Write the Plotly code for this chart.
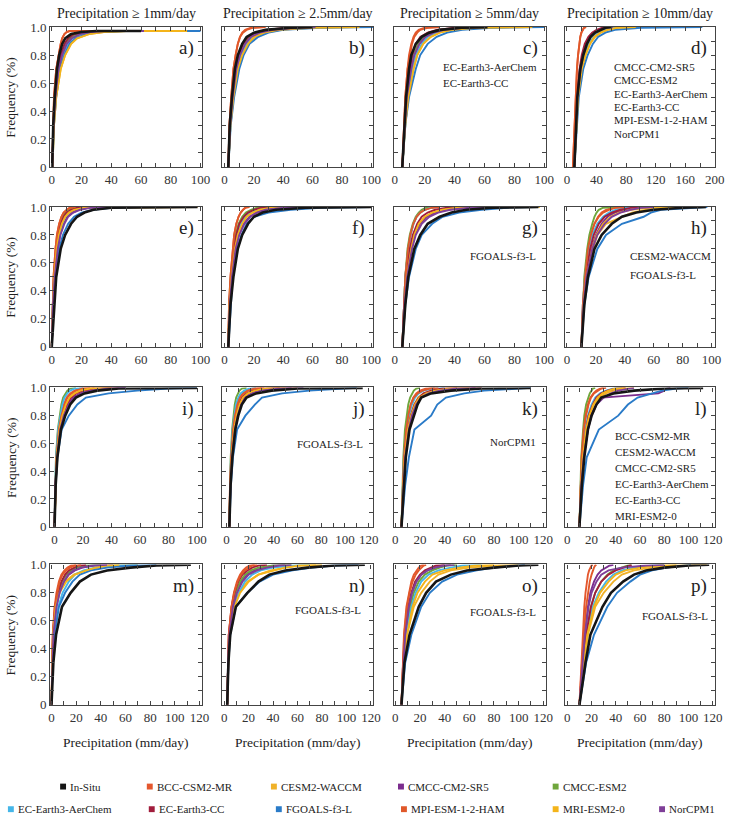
import plotly.graph_objects as go

W, H = 740, 827

MODELS = ["In-Situ", "BCC-CSM2-MR", "CESM2-WACCM", "CMCC-CM2-SR5", "CMCC-ESM2",
          "EC-Earth3-AerChem", "EC-Earth3-CC", "FGOALS-f3-L", "MPI-ESM-1-2-HAM",
          "MRI-ESM2-0", "NorCPM1"]
COLORS = ["#151515", "#e4572e", "#f0b22a", "#7b2d8e", "#6fa63c",
          "#45b6e8", "#a11d3c", "#2a7bc8", "#e0582a", "#f4b41a", "#7f3f98"]
COLUMN_TITLES = ["Precipitation \u2265 1mm/day", "Precipitation \u2265 2.5mm/day",
                 "Precipitation \u2265 5mm/day", "Precipitation \u2265 10mm/day"]
X_TITLE = "Precipitation (mm/day)"
Y_TITLE = "Frequency (%)"
LETTERS = list("abcdefghijklmnop")

# cumulative frequency levels shared by the curves of a panel
Y_LEVELS = [0, 0.3, 0.5, 0.7, 0.8, 0.88, 0.93, 0.96, 0.98, 0.995, 1.0]
Y_LEVELS_A = [0, 0.3, 0.5, 0.7, 0.8, 0.88, 0.92, 0.95, 0.965, 0.972, 0.972]

X_TICKS_100 = [0, 20, 40, 60, 80, 100]
X_TICKS_120 = [0, 20, 40, 60, 80, 100, 120]
X_TICKS_200 = [0, 40, 80, 120, 160, 200]
Y_TICKS = [0, 0.2, 0.4, 0.6, 0.8, 1.0]
Y_TICK_TEXT = ["0", "0.2", "0.4", "0.6", "0.8", "1.0"]

# precipitation (mm/day) reached by each curve at the panel's frequency levels
PANEL_A = {
    "In-Situ": [0.3, 1, 2, 3.5, 5, 7, 9, 13, 20, 30, 60],
    "BCC-CSM2-MR": [0.3, 0.8, 1.5, 3, 4.5, 6, 7, 8.5, 10, 12, 27],
    "CESM2-WACCM": [0.5, 1.5, 3, 6, 9, 13, 17, 25, 35, 50, 92],
    "CMCC-CM2-SR5": [0.4, 1.2, 2.5, 4.5, 7, 10, 13, 18, 25, 35, 60],
    "CMCC-ESM2": [0.4, 1.2, 2.5, 4.5, 6.5, 9, 12, 17, 24, 33, 55],
    "EC-Earth3-AerChem": [0.4, 1.3, 2.7, 5, 7.5, 11, 14, 20, 28, 40, 70],
    "EC-Earth3-CC": [0.4, 1.1, 2.2, 4, 6, 8.5, 11, 15, 22, 30, 55],
    "FGOALS-f3-L": [0.5, 1.5, 3, 5.5, 8.5, 12, 16, 23, 33, 48, 100],
    "MPI-ESM-1-2-HAM": [0.3, 0.8, 1.5, 3, 4.5, 6, 7, 8.5, 10, 12, 28],
    "MRI-ESM2-0": [0.5, 1.5, 3, 6, 9, 13, 17, 25, 35, 50, 91],
    "NorCPM1": [0.4, 1.2, 2.5, 4.5, 7, 10, 13.5, 19, 26, 36, 62],
}
PANEL_B = {
    "In-Situ": [2.5, 3.5, 5, 7, 9, 12, 15, 20, 28, 45, 60],
    "BCC-CSM2-MR": [2.5, 3.3, 4.5, 6, 7.5, 9, 10.5, 12, 14, 18, 27],
    "CESM2-WACCM": [2.5, 4, 6, 9, 12, 16, 21, 28, 38, 60, 92],
    "CMCC-CM2-SR5": [2.5, 3.8, 5.5, 8, 10.5, 14, 18, 24, 32, 50, 60],
    "CMCC-ESM2": [2.5, 3.8, 5.5, 8, 10, 13, 17, 22, 30, 45, 55],
    "EC-Earth3-AerChem": [2.5, 4, 6, 9, 11.5, 15, 19, 26, 35, 55, 70],
    "EC-Earth3-CC": [2.5, 3.6, 5, 7.5, 9.5, 12.5, 16, 21, 28, 42, 55],
    "FGOALS-f3-L": [2.5, 4.2, 6.5, 10, 13, 17, 23, 30, 40, 65, 102],
    "MPI-ESM-1-2-HAM": [2.5, 3.3, 4.5, 6, 7.5, 9, 10.5, 12.5, 15, 19, 28],
    "MRI-ESM2-0": [2.5, 4, 6, 9, 12, 16, 20, 27, 37, 58, 92],
    "NorCPM1": [2.5, 3.8, 5.5, 8, 10.5, 14, 18, 24, 33, 50, 62],
}
PANEL_C = {
    "In-Situ": [5, 6.5, 7.5, 9.5, 11, 14, 18, 23, 30, 45, 62],
    "BCC-CSM2-MR": [5, 6, 7, 8.5, 9.5, 11, 12.5, 14, 16, 20, 30],
    "CESM2-WACCM": [5, 7, 9, 12.5, 15, 19, 24, 30, 38, 55, 93],
    "CMCC-CM2-SR5": [5, 6.5, 8, 11, 13, 16, 20, 25, 32, 45, 60],
    "CMCC-ESM2": [5, 6.5, 8, 10.5, 12.5, 15.5, 19, 24, 30, 42, 55],
    "EC-Earth3-AerChem": [5, 7, 8.5, 12, 14, 18, 22, 28, 35, 50, 70],
    "EC-Earth3-CC": [5, 6.5, 7.5, 10, 11.5, 14, 17, 22, 28, 40, 55],
    "FGOALS-f3-L": [5, 7, 9.5, 14, 17, 22, 28, 35, 45, 65, 100],
    "MPI-ESM-1-2-HAM": [5, 6, 7, 8.5, 10, 11.5, 13, 15, 17, 22, 30],
    "MRI-ESM2-0": [5, 7, 9, 12.5, 15, 19, 24, 30, 38, 55, 92],
    "NorCPM1": [5, 6.5, 8, 11, 13, 16.5, 20.5, 26, 33, 46, 60],
}
PANEL_D = {
    "In-Situ": [10, 12, 14, 18, 22, 27, 32, 38, 45, 52, 60],
    "BCC-CSM2-MR": [8, 10, 11.5, 13.5, 15, 16.5, 18, 19.5, 21, 23, 25],
    "CESM2-WACCM": [10, 12.5, 15, 20, 25, 31, 38, 46, 55, 70, 95],
    "CMCC-CM2-SR5": [10, 12, 14, 18, 21, 26, 31, 37, 44, 52, 60],
    "CMCC-ESM2": [10, 12, 14, 17.5, 21, 25, 30, 35, 42, 50, 55],
    "EC-Earth3-AerChem": [10, 12.5, 15, 19.5, 24, 30, 36, 43, 52, 62, 70],
    "EC-Earth3-CC": [10, 12, 13.5, 17, 20, 24, 29, 34, 40, 48, 55],
    "FGOALS-f3-L": [10, 13, 16, 22, 28, 35, 42, 52, 65, 100, 183],
    "MPI-ESM-1-2-HAM": [8, 10, 11.5, 13.5, 15, 16.5, 18, 19.5, 21, 23, 26],
    "MRI-ESM2-0": [10, 12.5, 15, 20, 25, 31, 37, 45, 54, 68, 93],
    "NorCPM1": [10, 12, 14, 18.5, 22, 27, 32, 38, 45, 53, 62],
}
PANEL_E = {
    "In-Situ": [0, 1.5, 3, 6, 9, 13, 17, 22, 28, 40, 98],
    "BCC-CSM2-MR": [0, 0.5, 1.2, 2.5, 3.5, 5, 6.5, 8, 10, 12, 15],
    "CESM2-WACCM": [0, 0.7, 1.8, 3.5, 5, 7, 9, 12, 16, 25, 98],
    "CMCC-CM2-SR5": [0, 0.8, 2, 4, 5.5, 8, 10.5, 14, 18, 25, 40],
    "CMCC-ESM2": [0, 0.6, 1.5, 3, 4, 5.5, 7, 9, 11, 15, 25],
    "EC-Earth3-AerChem": [0, 0.7, 1.8, 3.5, 5, 7, 9, 11.5, 14, 20, 30],
    "EC-Earth3-CC": [0, 0.6, 1.5, 3, 4.2, 6, 8, 10, 13, 17, 25],
    "FGOALS-f3-L": [0, 1, 2.5, 5, 7.5, 11, 15, 20, 28, 40, 60],
    "MPI-ESM-1-2-HAM": [0, 0.5, 1.2, 2.5, 3.5, 5, 6.5, 8, 10, 12.5, 16],
    "MRI-ESM2-0": [0, 0.7, 1.7, 3.3, 4.8, 6.8, 9, 11.5, 15, 22, 35],
    "NorCPM1": [0, 0.8, 2, 4, 5.8, 8.5, 11, 14.5, 19, 27, 45],
}
PANEL_F = {
    "In-Situ": [2.5, 4, 6, 9, 12, 16, 20, 26, 35, 55, 100],
    "BCC-CSM2-MR": [2.5, 3, 4, 5.5, 6.5, 8, 9.5, 11, 12.5, 14, 16],
    "CESM2-WACCM": [2.5, 3.3, 4.8, 7, 9, 12, 15, 19, 25, 35, 90],
    "CMCC-CM2-SR5": [2.5, 3.5, 5, 7.5, 9.5, 13, 17, 22, 28, 38, 50],
    "CMCC-ESM2": [2.5, 3.2, 4.3, 6, 7.5, 9.5, 12, 14.5, 18, 22, 28],
    "EC-Earth3-AerChem": [2.5, 3.3, 4.6, 6.5, 8.5, 11, 14, 17, 21, 27, 35],
    "EC-Earth3-CC": [2.5, 3.2, 4.4, 6.2, 8, 10, 13, 16, 20, 25, 32],
    "FGOALS-f3-L": [2.5, 4, 5.5, 8.5, 11.5, 15, 20, 30, 45, 65, 100],
    "MPI-ESM-1-2-HAM": [2.5, 3, 4, 5.5, 6.5, 8, 9.5, 11, 12.5, 14.5, 17],
    "MRI-ESM2-0": [2.5, 3.3, 4.8, 7, 9, 12, 15, 19, 24, 32, 45],
    "NorCPM1": [2.5, 3.5, 5, 7.5, 10, 13.5, 17.5, 22, 28, 40, 55],
}
PANEL_G = {
    "In-Situ": [5, 7, 9, 13, 17, 22, 30, 38, 48, 65, 96],
    "BCC-CSM2-MR": [5, 6, 7, 9, 10.5, 12.5, 14.5, 17, 20, 24, 28],
    "CESM2-WACCM": [5, 6.5, 8, 11, 13.5, 17, 21, 26, 33, 45, 97],
    "CMCC-CM2-SR5": [5, 6.5, 8, 11, 13, 16.5, 21, 27, 35, 48, 60],
    "CMCC-ESM2": [5, 6, 7, 8.5, 10, 12, 14, 16, 18, 21, 25],
    "EC-Earth3-AerChem": [5, 6, 7, 9, 10.5, 12.5, 14.5, 17, 20, 24, 30],
    "EC-Earth3-CC": [5, 6.2, 7.5, 10, 12, 15, 18, 22, 27, 35, 45],
    "FGOALS-f3-L": [5, 7, 9.5, 14, 18, 25, 32, 43, 58, 75, 96],
    "MPI-ESM-1-2-HAM": [5, 6, 7, 8.8, 10.3, 12.3, 14.5, 17, 20, 25, 30],
    "MRI-ESM2-0": [5, 6.5, 8, 11, 13, 16, 20, 25, 32, 42, 60],
    "NorCPM1": [5, 6.5, 8.2, 11.5, 14, 18, 23, 29, 37, 50, 62],
}
PANEL_H = {
    "In-Situ": [10, 12, 14.5, 19, 24, 31, 38, 48, 60, 80, 96],
    "BCC-CSM2-MR": [10, 11, 12.5, 14.5, 16.5, 19, 21.5, 24, 27, 32, 38],
    "CESM2-WACCM": [10, 11.5, 13.5, 18, 21, 27, 38, 45, 55, 60, 95],
    "CMCC-CM2-SR5": [10, 11.5, 13.5, 17, 20, 24, 28, 33, 40, 50, 58],
    "CMCC-ESM2": [10, 11, 12, 14, 15.5, 17.5, 19, 20.5, 22, 25, 33],
    "EC-Earth3-AerChem": [10, 11, 12.5, 15, 17.5, 21, 25, 29, 34, 40, 48],
    "EC-Earth3-CC": [10, 11.2, 13, 16, 18.5, 22, 26, 31, 37, 45, 52],
    "FGOALS-f3-L": [10, 12, 15, 21, 27, 38, 53, 58, 65, 85, 97],
    "MPI-ESM-1-2-HAM": [10, 11, 12.5, 14.5, 16.5, 19, 22, 25, 29, 34, 40],
    "MRI-ESM2-0": [10, 11.5, 13.5, 17.5, 20.5, 25, 30, 36, 44, 55, 60],
    "NorCPM1": [10, 11.5, 13.5, 17.5, 21, 26, 31, 37, 44, 52, 60],
}
PANEL_I = {
    "In-Situ": [0, 0.8, 2, 4.5, 7.5, 11, 15, 21, 30, 45, 100],
    "BCC-CSM2-MR": [0, 0.5, 1.2, 3, 4.5, 6.5, 8.5, 11, 14, 18, 25],
    "CESM2-WACCM": [0, 0.6, 1.5, 3.5, 5.5, 8, 11, 14, 19, 26, 45],
    "CMCC-CM2-SR5": [0, 0.7, 1.8, 4, 6.5, 9.5, 13, 18, 25, 35, 50],
    "CMCC-ESM2": [0, 0.4, 1, 2.3, 3.5, 4.8, 6, 7.5, 9, 11, 15],
    "EC-Earth3-AerChem": [0, 0.4, 1, 2.5, 4, 5.5, 7, 9, 11, 14, 20],
    "EC-Earth3-CC": [0, 0.6, 1.6, 3.6, 5.8, 8.5, 11.5, 15, 20, 28, 40],
    "FGOALS-f3-L": [0, 0.8, 2, 5, 10, 16, 22, 38, 58, 80, 100],
    "MPI-ESM-1-2-HAM": [0, 0.5, 1.3, 3, 4.8, 7, 9, 12, 15, 20, 28],
    "MRI-ESM2-0": [0, 0.6, 1.5, 3.5, 5.5, 8, 10.5, 14, 18, 25, 40],
    "NorCPM1": [0, 0.7, 1.8, 4, 6.5, 10, 14, 19, 26, 38, 50],
}
PANEL_J = {
    "In-Situ": [2.5, 3.5, 5, 7.5, 10, 13, 17, 25, 38, 60, 115],
    "BCC-CSM2-MR": [2.5, 3, 4, 5.5, 7, 9, 11, 14, 17, 22, 30],
    "CESM2-WACCM": [2.5, 3.3, 4.5, 6.5, 8.5, 11, 14, 18, 24, 35, 60],
    "CMCC-CM2-SR5": [2.5, 3.4, 4.8, 7, 9, 12, 15.5, 21, 28, 40, 55],
    "CMCC-ESM2": [2.5, 2.9, 3.6, 4.8, 5.8, 7, 8.2, 9.5, 11, 13, 17],
    "EC-Earth3-AerChem": [2.5, 3, 3.8, 5.2, 6.5, 8, 10, 12, 15, 19, 25],
    "EC-Earth3-CC": [2.5, 3.2, 4.3, 6.2, 8, 10.5, 13, 17, 22, 30, 45],
    "FGOALS-f3-L": [2.5, 3.8, 5.5, 9, 16, 24, 30, 47, 70, 95, 110],
    "MPI-ESM-1-2-HAM": [2.5, 3, 4, 5.6, 7.2, 9.3, 11.5, 14.5, 18, 24, 32],
    "MRI-ESM2-0": [2.5, 3.3, 4.5, 6.5, 8.5, 11, 14, 18, 24, 34, 50],
    "NorCPM1": [2.5, 3.4, 4.8, 7.2, 9.5, 12.5, 16, 22, 30, 45, 65],
}
PANEL_K = {
    "In-Situ": [5, 7, 8.5, 11.5, 15, 18, 21, 29, 45, 70, 110],
    "BCC-CSM2-MR": [5, 6, 7, 8.8, 10.5, 12.5, 14.5, 17, 20, 25, 32],
    "CESM2-WACCM": [5, 6.3, 7.5, 10, 12.5, 15.5, 18.5, 23, 30, 42, 70],
    "CMCC-CM2-SR5": [5, 6.5, 8, 11, 14, 17, 20, 26, 35, 50, 65],
    "CMCC-ESM2": [5, 5.8, 6.5, 7.8, 9, 10.5, 12, 13.5, 15, 17, 20],
    "EC-Earth3-AerChem": [5, 6, 7, 9, 11, 13.5, 16, 19, 23, 30, 40],
    "EC-Earth3-CC": [5, 6.3, 7.5, 10, 12.5, 15.5, 19, 23, 29, 38, 50],
    "FGOALS-f3-L": [5, 8, 11, 15.5, 29, 34, 41, 56, 72, 95, 110],
    "MPI-ESM-1-2-HAM": [5, 6, 7, 8.8, 10.5, 12.5, 15, 18, 22, 28, 35],
    "MRI-ESM2-0": [5, 6.3, 7.6, 10.2, 12.8, 16, 19.5, 25, 32, 45, 60],
    "NorCPM1": [5, 6.5, 8, 11, 13.5, 17, 21, 27, 36, 50, 70],
}
PANEL_L = {
    "In-Situ": [10, 12, 14, 17, 20, 24, 28, 38, 55, 80, 112],
    "BCC-CSM2-MR": [10, 11, 12, 14, 15.5, 17.5, 19.5, 22, 25, 28, 32],
    "CESM2-WACCM": [10, 11.5, 13, 16, 18.5, 22, 26, 32, 38, 45, 55],
    "CMCC-CM2-SR5": [10, 11.5, 13.5, 17, 19.5, 24, 29, 75, 80, 82, 85],
    "CMCC-ESM2": [10, 10.8, 11.5, 13, 14, 15.5, 17, 18.5, 20, 21, 23],
    "EC-Earth3-AerChem": [10, 11.2, 12.5, 15, 17, 20, 23, 27, 32, 38, 45],
    "EC-Earth3-CC": [10, 11.2, 12.8, 15.5, 17.5, 21, 24, 28, 33, 40, 48],
    "FGOALS-f3-L": [10, 13, 16, 26, 42, 50, 58, 70, 78, 90, 100],
    "MPI-ESM-1-2-HAM": [10, 10.8, 11.8, 13.5, 15, 17, 19, 21.5, 24, 27, 30],
    "MRI-ESM2-0": [10, 11.3, 12.8, 15.5, 18, 21.5, 25, 29, 34, 40, 48],
    "NorCPM1": [10, 11.5, 13.5, 17, 20, 24, 30, 36, 42, 50, 55],
}
PANEL_M = {
    "In-Situ": [0, 1.5, 3.7, 8.5, 15.5, 23, 32, 45, 64, 85, 113],
    "BCC-CSM2-MR": [0, 0.4, 1, 2.5, 4, 6, 8, 10.5, 13, 16, 20],
    "CESM2-WACCM": [0, 0.5, 1.2, 3.5, 6, 11, 18, 28, 38, 50, 70],
    "CMCC-CM2-SR5": [0, 0.6, 1.5, 4, 6.5, 10, 14, 19, 25, 35, 50],
    "CMCC-ESM2": [0, 0.5, 1.3, 3.5, 5.5, 8.5, 12, 16, 21, 28, 40],
    "EC-Earth3-AerChem": [0, 0.8, 2, 5.5, 9, 14, 19, 26, 35, 50, 70],
    "EC-Earth3-CC": [0, 0.5, 1.2, 3, 5, 8, 11, 14, 18, 22, 28],
    "FGOALS-f3-L": [0, 1, 2.5, 6, 11, 17, 23, 32, 45, 65, 85],
    "MPI-ESM-1-2-HAM": [0, 0.4, 1, 2.7, 4.5, 6.5, 9, 12, 15, 19, 24],
    "MRI-ESM2-0": [0, 0.5, 1.2, 3.5, 6.5, 12, 19, 28, 36, 45, 55],
    "NorCPM1": [0, 0.6, 1.5, 4, 6.5, 10, 13.5, 18, 24, 33, 45],
}
PANEL_N = {
    "In-Situ": [2.5, 3.5, 5, 9.6, 19, 28, 37, 50, 68, 90, 115],
    "BCC-CSM2-MR": [2.5, 3, 3.8, 6, 8, 10.5, 13, 15.5, 18, 21, 25],
    "CESM2-WACCM": [2.5, 3.3, 4.5, 8, 12, 19, 28, 38, 50, 60, 75],
    "CMCC-CM2-SR5": [2.5, 3.2, 4.2, 7, 10, 14, 19, 25, 32, 40, 50],
    "CMCC-ESM2": [2.5, 3.1, 4, 6.8, 9.5, 13, 17, 22, 28, 40, 55],
    "EC-Earth3-AerChem": [2.5, 3.3, 4.5, 8, 12, 17, 23, 30, 40, 55, 70],
    "EC-Earth3-CC": [2.5, 3, 3.8, 6.2, 8.5, 11.5, 15, 19, 23, 28, 35],
    "FGOALS-f3-L": [2.5, 3.5, 5, 9.5, 19, 29, 40, 56, 72, 90, 110],
    "MPI-ESM-1-2-HAM": [2.5, 3, 3.8, 6, 8.2, 11, 14, 17, 20, 23, 27],
    "MRI-ESM2-0": [2.5, 3.4, 4.7, 8.5, 13, 20, 28, 40, 50, 62, 80],
    "NorCPM1": [2.5, 3.2, 4.3, 7.2, 10.5, 15, 20, 27, 35, 45, 55],
}
PANEL_O = {
    "In-Situ": [5, 7.4, 11.5, 19, 25, 33, 45, 58, 80, 100, 116],
    "BCC-CSM2-MR": [5, 6, 7, 9, 11, 13, 15, 17, 19, 21, 23],
    "CESM2-WACCM": [5, 7, 9.5, 15, 21, 28, 35, 45, 60, 80, 100],
    "CMCC-CM2-SR5": [5, 6.5, 8, 11, 13.5, 17, 21, 26, 32, 38, 45],
    "CMCC-ESM2": [5, 6.5, 8.5, 12, 15, 19, 24, 30, 36, 42, 50],
    "EC-Earth3-AerChem": [5, 6.8, 9, 13, 16.5, 21, 27, 35, 45, 55, 70],
    "EC-Earth3-CC": [5, 6.3, 7.8, 10.5, 13, 16, 20, 24, 29, 33, 40],
    "FGOALS-f3-L": [5, 8, 13, 21, 28, 38, 50, 66, 80, 95, 105],
    "MPI-ESM-1-2-HAM": [5, 6, 7.2, 9.5, 11.5, 14, 16.5, 19, 21, 23, 25],
    "MRI-ESM2-0": [5, 7, 9.5, 14, 18, 24, 30, 40, 52, 65, 80],
    "NorCPM1": [5, 6.5, 8, 11, 13.5, 17, 21, 26, 32, 40, 48],
}
PANEL_P = {
    "In-Situ": [10, 15, 19, 29, 36, 46, 55, 65, 80, 100, 117],
    "BCC-CSM2-MR": [10, 11.5, 12.5, 14, 15, 16, 17, 18, 19, 20, 21],
    "CESM2-WACCM": [10, 14, 17, 23, 30, 38, 45, 55, 70, 90, 115],
    "CMCC-CM2-SR5": [10, 12.5, 14.5, 17, 19, 22, 25, 28, 32, 35, 38],
    "CMCC-ESM2": [10, 13, 15.5, 19.5, 23, 28, 33, 38, 44, 50, 53],
    "EC-Earth3-AerChem": [10, 13.5, 16, 21, 26, 32, 38, 45, 55, 70, 80],
    "EC-Earth3-CC": [10, 13, 15.5, 19.5, 23, 28, 34, 40, 46, 50, 53],
    "FGOALS-f3-L": [10, 15.5, 22, 33, 41, 52, 60, 70, 82, 95, 102],
    "MPI-ESM-1-2-HAM": [10, 12, 13.5, 15.5, 17, 18.5, 20, 21, 22, 23, 24],
    "MRI-ESM2-0": [10, 13.5, 16.5, 22, 27, 34, 40, 48, 60, 75, 90],
    "NorCPM1": [10, 12.5, 14.5, 17.5, 20, 24, 28, 34, 45, 65, 80],
}

# models named inside some panels
NOTES_C = ["EC-Earth3-AerChem", "EC-Earth3-CC"]
NOTES_D = ["CMCC-CM2-SR5", "CMCC-ESM2", "EC-Earth3-AerChem", "EC-Earth3-CC",
           "MPI-ESM-1-2-HAM", "NorCPM1"]
NOTES_G = ["FGOALS-f3-L"]
NOTES_H = ["CESM2-WACCM", "FGOALS-f3-L"]
NOTES_J = ["FGOALS-f3-L"]
NOTES_K = ["NorCPM1"]
NOTES_L = ["BCC-CSM2-MR", "CESM2-WACCM", "CMCC-CM2-SR5", "EC-Earth3-AerChem",
           "EC-Earth3-CC", "MRI-ESM2-0"]
NOTES_N = ["FGOALS-f3-L"]
NOTES_O = ["FGOALS-f3-L"]
NOTES_P = ["FGOALS-f3-L"]

PANELS = [
    # data, y-levels, x tick values, x range, minor step, notes, (note x px, first y px, spacing px)
    (PANEL_A, Y_LEVELS_A, X_TICKS_100, [-1, 101], 10, [], None),
    (PANEL_B, Y_LEVELS, X_TICKS_100, [-2, 101.5], 10, [], None),
    (PANEL_C, Y_LEVELS, X_TICKS_100, [-0.5, 101], 10, NOTES_C, (446, 61, 16)),
    (PANEL_D, Y_LEVELS, X_TICKS_200, [-2, 200.5], 20, NOTES_D, (619, 61, 13.6)),
    (PANEL_E, Y_LEVELS, X_TICKS_100, [-1, 101], 10, [], None),
    (PANEL_F, Y_LEVELS, X_TICKS_100, [-2, 101.5], 10, [], None),
    (PANEL_G, Y_LEVELS, X_TICKS_100, [-0.5, 101], 10, NOTES_G, (473, 253, 0)),
    (PANEL_H, Y_LEVELS, X_TICKS_100, [-1, 102.5], 10, NOTES_H, (635, 253, 20)),
    (PANEL_I, Y_LEVELS, X_TICKS_100, [-3, 103.5], 10, [], None),
    (PANEL_J, Y_LEVELS, X_TICKS_120, [-4, 124], 10, NOTES_J, (297, 445, 0)),
    (PANEL_K, Y_LEVELS, X_TICKS_120, [-1, 122], 10, NOTES_K, (493, 442, 0)),
    (PANEL_L, Y_LEVELS, X_TICKS_120, [-1.5, 122], 10, NOTES_L, (620, 436, 16.3)),
    (PANEL_M, Y_LEVELS, X_TICKS_120, [-1, 122], 10, [], None),
    (PANEL_N, Y_LEVELS, X_TICKS_120, [-2, 122], 10, NOTES_N, (295, 613, 0)),
    (PANEL_O, Y_LEVELS, X_TICKS_120, [-1, 122], 10, NOTES_O, (473, 615, 0)),
    (PANEL_P, Y_LEVELS, X_TICKS_120, [-1.5, 122], 10, NOTES_P, (648, 619, 0)),
]

COL_LEFT = [49, 223, 398, 572]
COL_RIGHT = [203, 377, 552, 724]
ROW_TOP = [20, 203, 387, 567]
ROW_BOT = [163, 346, 529, 710]

LEGEND_ROWS = [
    (793, [(62, 0), (150, 1), (276, 2), (405, 3), (562, 4)]),
    (816, [(9, 5), (152, 6), (281, 7), (408, 8), (562, 9), (670, 10)]),
]

FONT = "Liberation Serif, Times New Roman, Tinos, serif"
INK = "#333333"


def px(x):
    return x / W


def py(y):
    return 1 - y / H


fig = go.Figure()
layout = dict(
    width=W, height=H, margin=dict(l=0, r=0, t=0, b=0),
    paper_bgcolor="white", plot_bgcolor="white",
    font=dict(family=FONT, size=12, color=INK),
    showlegend=False,
)
annotations = []
shapes = []

for i, (data, ylev, xticks, xrange, minor, notes, notepos) in enumerate(PANELS):
    r, c = divmod(i, 4)
    n = i + 1
    xa = "x" if n == 1 else f"x{n}"
    ya = "y" if n == 1 else f"y{n}"
    xkey = "xaxis" if n == 1 else f"xaxis{n}"
    ykey = "yaxis" if n == 1 else f"yaxis{n}"
    order = MODELS[1:] + MODELS[:1]
    for name in order:
        k = MODELS.index(name)
        fig.add_trace(go.Scatter(
            x=data[name], y=ylev, mode="lines", xaxis=xa, yaxis=ya,
            line=dict(color=COLORS[k], width=2.6 if k == 0 else 1.9),
            hoverinfo="skip", name=name,
        ))
    layout[xkey] = dict(
        domain=[px(COL_LEFT[c]), px(COL_RIGHT[c])], anchor=ya,
        range=xrange, tickvals=xticks, ticktext=[str(v) for v in xticks],
        ticks="inside", ticklen=4, tickwidth=1, tickcolor="#444",
        minor=dict(dtick=minor, tick0=0, ticks="inside", ticklen=4, tickcolor="#444"),
        showline=True, linecolor="#444", linewidth=1.3, mirror="allticks",
        showgrid=False, zeroline=False,
        tickfont=dict(family=FONT, size=13, color=INK),
    )
    layout[ykey] = dict(
        domain=[py(ROW_BOT[r]), py(ROW_TOP[r])], anchor=xa,
        range=[-0.002, 1.003], tickvals=Y_TICKS, ticktext=Y_TICK_TEXT,
        ticks="inside", ticklen=4, tickwidth=1, tickcolor="#444",
        minor=dict(dtick=0.1, tick0=0, ticks="inside", ticklen=4, tickcolor="#444"),
        showline=True, linecolor="#444", linewidth=1.3, mirror="allticks",
        showgrid=False, zeroline=False, showticklabels=(c == 0),
        tickfont=dict(family=FONT, size=13, color=INK),
    )
    # panel letter
    annotations.append(dict(
        x=px(COL_RIGHT[c] - 6), y=py(ROW_TOP[r] + 22), xref="paper", yref="paper",
        text=f"{LETTERS[i]})", showarrow=False, xanchor="right", yanchor="middle",
        font=dict(family=FONT, size=19, color="#222"),
    ))
    if notes:
        nx, ny, step = notepos
        for j, t in enumerate(notes):
            annotations.append(dict(
                x=px(nx), y=py(ny + j * step), xref="paper", yref="paper",
                text=t, showarrow=False, xanchor="left", yanchor="middle",
                font=dict(family=FONT, size=11, color="#222"),
            ))

# column titles and x-axis titles
for c in range(4):
    cx = (COL_LEFT[c] + COL_RIGHT[c]) / 2
    annotations.append(dict(
        x=px(cx), y=py(7), xref="paper", yref="paper", text=COLUMN_TITLES[c],
        showarrow=False, xanchor="center", yanchor="middle",
        font=dict(family=FONT, size=14, color="#222"),
    ))
    annotations.append(dict(
        x=px(cx), y=py(748), xref="paper", yref="paper", text=X_TITLE,
        showarrow=False, xanchor="center", yanchor="middle",
        font=dict(family=FONT, size=13.5, color="#222"),
    ))

# y-axis titles
for r in range(4):
    cy = (ROW_TOP[r] + ROW_BOT[r]) / 2
    annotations.append(dict(
        x=px(9), y=py(cy), xref="paper", yref="paper", text=Y_TITLE,
        showarrow=False, textangle=-90, xanchor="center", yanchor="middle",
        font=dict(family=FONT, size=13.5, color="#222"),
    ))

# legend
for ly, items in LEGEND_ROWS:
    for lx, k in items:
        shapes.append(dict(
            type="rect", xref="paper", yref="paper",
            x0=px(lx - 3), x1=px(lx + 3), y0=py(ly + 3), y1=py(ly - 3),
            fillcolor=COLORS[k], line=dict(width=0),
        ))
        annotations.append(dict(
            x=px(lx + 5), y=py(ly), xref="paper", yref="paper", text=MODELS[k],
            showarrow=False, xanchor="left", yanchor="middle",
            font=dict(family=FONT, size=11, color="#222"),
        ))

layout["annotations"] = annotations
layout["shapes"] = shapes
fig.update_layout(**layout)
fig.write_html("out.html")
